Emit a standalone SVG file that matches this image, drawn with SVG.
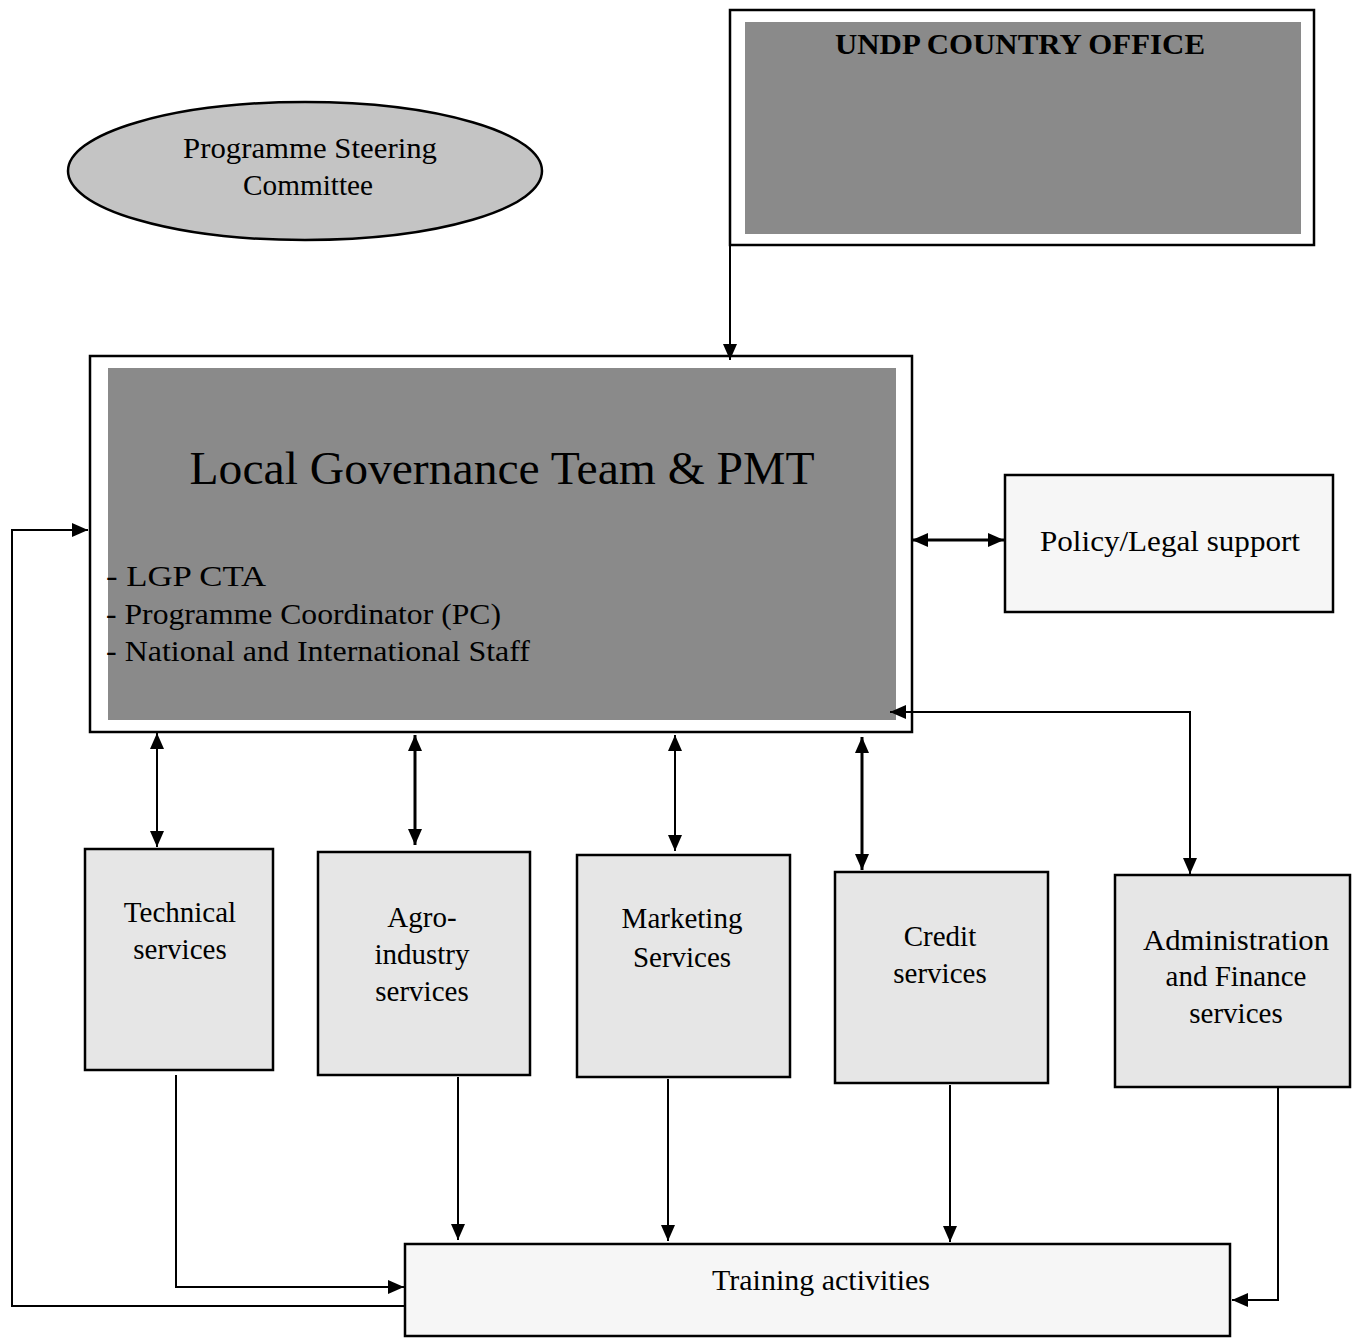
<svg xmlns="http://www.w3.org/2000/svg" width="1358" height="1343" viewBox="0 0 1358 1343">
<style>
.box{fill:#fff;stroke:#000;stroke-width:2.5}
.dark{fill:#8a8a8a}
.light{fill:#e6e6e6;stroke:#000;stroke-width:2.5}
.pale{fill:#f6f6f6;stroke:#000;stroke-width:2.5}
.ell{fill:#c4c4c4;stroke:#000;stroke-width:2.5}
.t{font-family:"Liberation Serif","Times New Roman",serif;fill:#000;font-size:29px}
.big{font-size:47px}
.c{text-anchor:middle}
.ln{fill:none;stroke:#000;stroke-width:2}
.lnb{fill:none;stroke:#000;stroke-width:3}
</style>
<defs>
<marker id="a" viewBox="0 0 10 10" refX="10" refY="5" markerWidth="16" markerHeight="14" markerUnits="userSpaceOnUse" orient="auto-start-reverse" preserveAspectRatio="none">
<path d="M0,0 L10,5 L0,10 z" fill="#000"/>
</marker>
</defs>

<g id="undp">
<rect class="box" x="730" y="10" width="584" height="235"/>
<rect class="dark" x="745" y="22" width="556" height="212"/>
<text class="t c" x="1020" y="54" font-weight="bold" textLength="370" lengthAdjust="spacingAndGlyphs">UNDP COUNTRY OFFICE</text>
</g>

<g id="steering">
<ellipse class="ell" cx="305" cy="171" rx="237" ry="69"/>
<text class="t c" x="310" y="158" textLength="254" lengthAdjust="spacingAndGlyphs">Programme Steering</text>
<text class="t c" x="308" y="195" textLength="130" lengthAdjust="spacingAndGlyphs">Committee</text>
</g>

<g id="pmt">
<rect class="box" x="90" y="356" width="822" height="376"/>
<rect class="dark" x="108" y="368" width="788" height="352"/>
<text class="t big c" x="502" y="484" textLength="625" lengthAdjust="spacingAndGlyphs">Local Governance Team &amp; PMT</text>
<text class="t" x="106" y="586" textLength="160" lengthAdjust="spacingAndGlyphs">- LGP CTA</text>
<text class="t" x="106" y="624" textLength="395" lengthAdjust="spacingAndGlyphs">- Programme Coordinator (PC)</text>
<text class="t" x="106" y="661" textLength="424" lengthAdjust="spacingAndGlyphs">- National and International Staff</text>
</g>

<g id="policy">
<rect class="pale" x="1005" y="475" width="328" height="137"/>
<text class="t c" x="1170" y="551" textLength="260" lengthAdjust="spacingAndGlyphs">Policy/Legal support</text>
</g>

<g id="technical">
<rect class="light" x="85" y="849" width="188" height="221"/>
<text class="t c" x="180" y="922">Technical</text>
<text class="t c" x="180" y="959">services</text>
</g>

<g id="agro">
<rect class="light" x="318" y="852" width="212" height="223"/>
<text class="t c" x="422" y="927">Agro-</text>
<text class="t c" x="422" y="964">industry</text>
<text class="t c" x="422" y="1001">services</text>
</g>

<g id="marketing">
<rect class="light" x="577" y="855" width="213" height="222"/>
<text class="t c" x="682" y="928">Marketing</text>
<text class="t c" x="682" y="967">Services</text>
</g>

<g id="credit">
<rect class="light" x="835" y="872" width="213" height="211"/>
<text class="t c" x="940" y="946">Credit</text>
<text class="t c" x="940" y="983">services</text>
</g>

<g id="admin">
<rect class="light" x="1115" y="875" width="235" height="212"/>
<text class="t c" x="1236" y="950" textLength="186" lengthAdjust="spacingAndGlyphs">Administration</text>
<text class="t c" x="1236" y="986">and Finance</text>
<text class="t c" x="1236" y="1023">services</text>
</g>

<g id="training">
<rect class="pale" x="405" y="1244" width="825" height="92"/>
<text class="t c" x="821" y="1290" textLength="218" lengthAdjust="spacingAndGlyphs">Training activities</text>
</g>

<g id="connectors">
<path class="ln" d="M730,245 V360" marker-end="url(#a)"/>
<path class="lnb" d="M912,540 H1004" marker-start="url(#a)" marker-end="url(#a)"/>
<path class="ln" d="M405,1306 H12 V530 H88" marker-end="url(#a)"/>
<path class="ln" d="M176,1075 V1287 H404" marker-end="url(#a)"/>
<path class="ln" d="M1278,1088 V1300 H1232" marker-end="url(#a)"/>
<path class="ln" d="M458,1077 V1240" marker-end="url(#a)"/>
<path class="ln" d="M668,1079 V1241" marker-end="url(#a)"/>
<path class="ln" d="M950,1085 V1242" marker-end="url(#a)"/>
<path class="ln" d="M157,733 V847" marker-start="url(#a)" marker-end="url(#a)"/>
<path class="lnb" d="M415,735 V845" marker-start="url(#a)" marker-end="url(#a)"/>
<path class="ln" d="M675,735 V851" marker-start="url(#a)" marker-end="url(#a)"/>
<path class="lnb" d="M862,737 V870" marker-start="url(#a)" marker-end="url(#a)"/>
<path class="ln" d="M890,712 H1190 V874" marker-start="url(#a)" marker-end="url(#a)"/>
</g>
</svg>
